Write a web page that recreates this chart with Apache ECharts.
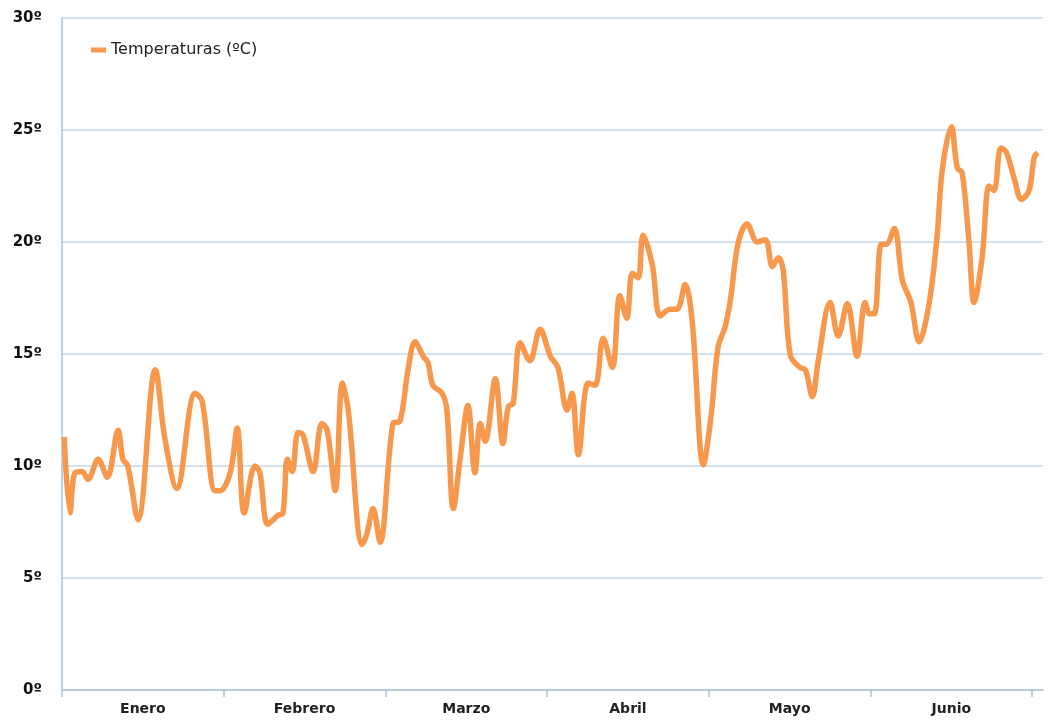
<!DOCTYPE html>
<html>
<head>
<meta charset="utf-8">
<script src="https://cdn.jsdelivr.net/npm/echarts@6/dist/echarts.min.js"></script>
<style>
  html, body { margin: 0; padding: 0; background: #fff; }
  #main { width: 1049px; height: 725px; }
</style>
</head>
<body>
<div id="main"></div>
<script>
// meses del eje x
const months = ["Enero", "Febrero", "Marzo", "Abril", "Mayo", "Junio"];
// límites de mes (en días) y centro de cada etiqueta
const monthTicks = [0, 30, 60, 90, 120, 150, 180];
const monthCenters = [15, 45, 75, 105, 135, 165];
// marcas del eje y
const yTicks = [0, 5, 10, 15, 20, 25, 30];

// temperaturas: día del periodo y valor (ºC)
const days = [
  0.4, 1.5, 2.4, 3.7, 4.8, 6.7, 8.4, 10.4, 11.3, 12.2,
  14.1, 17.3, 19.1, 21.3, 24.7, 26.0, 28.4, 29.3, 31.2, 32.5,
  33.8, 35.8, 36.7, 38.2, 40.1, 41.0, 41.8, 42.7, 43.8, 44.7,
  46.6, 48.2, 49.2, 50.7, 52.0, 53.1, 55.7, 56.6, 57.7, 59.0,
  61.4, 62.7, 64.2, 65.5, 67.0, 67.9, 68.8, 70.5, 71.4, 72.6,
  73.9, 75.3, 76.6, 77.6, 78.5, 80.4, 81.8, 82.8, 83.7, 85.0,
  86.8, 88.7, 90.6, 92.0, 93.7, 94.6, 95.8, 97.6, 98.9, 100.4,
  102.1, 103.5, 104.8, 105.8, 106.9, 107.8, 109.5, 111.0, 112.8, 114.1,
  115.6, 116.9, 119.0, 120.4, 121.7, 123.0, 124.0, 125.4, 127.1, 129.0,
  130.5, 131.8, 132.9, 133.8, 135.1, 136.9, 137.9, 139.2, 140.3, 142.5,
  144.0, 145.7, 147.5, 149.0, 149.8, 150.7, 152.0, 152.9, 154.4, 155.9,
  157.5, 159.0, 160.9, 162.4, 163.3, 165.0, 166.1, 167.0, 168.3, 169.2,
  170.7, 172.0, 172.9, 174.2, 175.2, 176.7, 178.0, 179.4, 180.4, 181.0
];
const temps = [
  11.3, 7.9, 9.7, 9.75, 9.4, 10.3, 9.5, 11.6, 10.3, 10.0,
  7.6, 14.3, 11.2, 9.0, 13.25, 12.9, 8.9, 8.9, 9.7, 11.7,
  7.9, 10.0, 9.7, 7.4, 7.8, 7.9, 10.3, 9.75, 11.5, 11.4,
  9.75, 11.9, 11.6, 8.9, 13.7, 12.5, 6.5, 7.0, 8.1, 6.6,
  11.9, 12.0, 14.3, 15.55, 14.9, 14.6, 13.6, 13.25, 12.5, 8.1,
  10.4, 12.7, 9.7, 11.9, 11.1, 13.9, 11.0, 12.65, 12.8, 15.5,
  14.7, 16.1, 14.9, 14.4, 12.5, 13.25, 10.5, 13.7, 13.6, 15.7,
  14.4, 17.6, 16.6, 18.6, 18.4, 20.3, 19.0, 16.7, 17.0, 17.0,
  18.1, 16.5, 10.05, 12.2, 15.3, 16.2, 17.4, 19.9, 20.8, 20.0,
  20.1, 18.9, 19.3, 18.75, 14.95, 14.4, 14.3, 13.1, 14.7, 17.3,
  15.8, 17.25, 14.9, 17.3, 16.8, 16.8, 19.9, 19.9, 20.6, 18.3,
  17.3, 15.55, 17.3, 20.4, 23.2, 25.15, 23.3, 23.1, 19.9, 17.3,
  19.3, 22.5, 22.3, 24.2, 24.0, 22.8, 21.9, 22.3, 23.8, 24.0
];

const chart = echarts.init(document.getElementById("main"));
const option = {
  backgroundColor: "#fff",
  animation: false,
  grid: { left: 62, right: 6, top: 18, bottom: 35 },
  legend: {
    left: 86,
    top: 37,
    icon: "rect",
    itemWidth: 15,
    itemHeight: 5,
    textStyle: { fontFamily: "DejaVu Sans", fontSize: 16, color: "#222" },
    data: ["Temperaturas (ºC)"]
  },
  xAxis: {
    type: "value",
    min: 0,
    max: 182,
    axisLine: { show: true, lineStyle: { color: "#a9c3da", width: 1.5 } },
    axisTick: {
      show: true,
      customValues: monthTicks,
      length: 7,
      lineStyle: { color: "#a9c3da", width: 1.5 }
    },
    axisLabel: {
      customValues: monthCenters,
      margin: 12,
      fontFamily: "DejaVu Sans",
      fontWeight: "bold",
      fontSize: 14,
      color: "#222",
      formatter: (v) => months[monthCenters.indexOf(v)]
    },
    splitLine: { show: false }
  },
  yAxis: {
    type: "value",
    min: yTicks[0],
    max: yTicks[yTicks.length - 1],
    interval: 5,
    axisLine: { show: true, lineStyle: { color: "#a9c3da", width: 1.5 } },
    axisTick: { show: false },
    axisLabel: {
      margin: 20,
      fontFamily: "DejaVu Sans",
      fontWeight: "bold",
      fontSize: 15,
      color: "#111",
      formatter: (v) => v + "º"
    },
    splitLine: { show: true, lineStyle: { color: "#c6d8e8", width: 1.5 } }
  },
  series: [
    {
      name: "Temperaturas (ºC)",
      type: "line",
      smooth: 0.35,
      showSymbol: false,
      symbol: "none",
      lineStyle: { color: "#f7984c", width: 5.5 },
      itemStyle: { color: "#f7984c" },
      data: days.map((d, i) => [d, temps[i]])
    }
  ]
};
chart.setOption(option);
</script>
</body>
</html>
